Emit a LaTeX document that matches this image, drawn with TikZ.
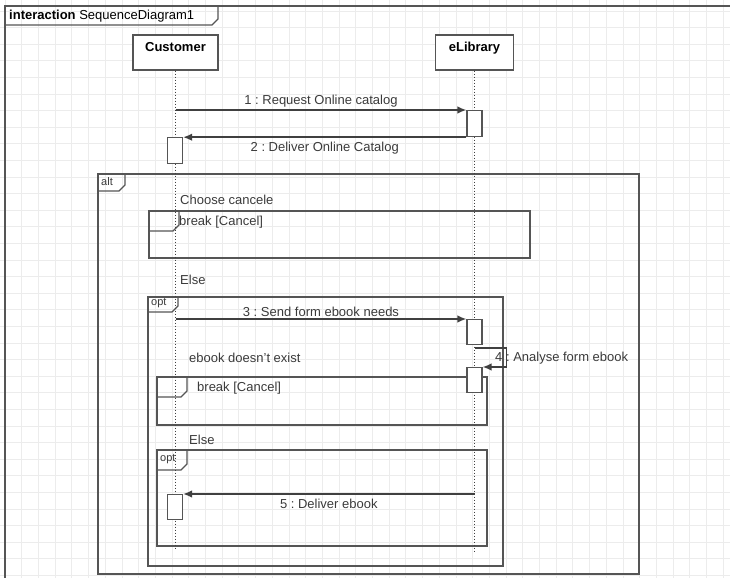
\documentclass[tikz,border=0pt]{standalone}
\usepackage{fontspec}
\setmainfont{Liberation Sans}
\usepackage{tikz}
\usetikzlibrary{arrows.meta}
\frenchspacing

\definecolor{framegray}{HTML}{555555}
\definecolor{textgray}{HTML}{3A3A3A}
\definecolor{gridgray}{HTML}{ECECEC}

% fragment tab: x, y, width, height
\newcommand{\fragtab}[4]{%
  \draw[frame_style] (#1,#2) -- ++(#3,0) -- ++(0,#4-6) -- ++(-6,6) -- ++(-#3+6,0) -- cycle;}

\begin{document}
\begin{tikzpicture}[x=1pt, y=-1pt, font=\fontsize{13}{15}\selectfont,
		head_style/.style={rectangle,draw=framegray,line width=1.2pt,fill=white,minimum height=35pt,
			text height=13.5pt,text depth=15.5pt,inner sep=3pt,font=\fontsize{13}{15}\selectfont\bfseries},
		act_style/.style={rectangle,draw=framegray,line width=1.2pt,fill=white,minimum width=15pt,
			minimum height=26pt,inner sep=0pt,anchor=north},
		life_style/.style={draw=black!75,line width=1.2pt,dash pattern=on 1.2pt off 1.8pt},
		msg_style/.style={draw=black!75,line width=1.5pt,-{Latex[length=9pt,width=7.5pt]}},
		frame_style/.style={draw=framegray,line width=1.2pt},
		grid_style/.style={draw=gridgray,line width=0.8pt},
		lbl_style/.style={text=textgray,inner sep=1pt},
		tab_style/.style={text=textgray,inner sep=1pt,anchor=west,font=\fontsize{11}{12}\selectfont}]
		
		\useasboundingbox (0,0) rectangle (730,578);
		
		% background grid
		\foreach \gx in {5,21.7,...,730} \draw[grid_style] (\gx,0) -- (\gx,578);
		\foreach \gy in {11,27.6,...,578} \draw[grid_style] (0,\gy) -- (730,\gy);
		
		% interaction frame
		\draw[frame_style] (730,6) -- (5,6) -- (5,578);
		\fragtab{5}{6}{213}{19}
		\node[anchor=west,inner sep=0pt] (frame_lbl) at (9,16) {\textbf{interaction} SequenceDiagram1};
		
		% alt fragment
		\draw[frame_style] (98,174) rectangle (639,574);
		\fragtab{98}{174}{27}{17}
		\node[tab_style] (alt_lbl) at (100,182) {alt};
		\node[lbl_style,anchor=west] (guard1) at (179,200) {Choose cancele};
		
		\draw[frame_style] (149,211) rectangle (530,258);
		\fragtab{149}{211}{30}{20}
		\node[lbl_style,anchor=west] (brk1_lbl) at (178,222) {break [Cancel]};
		
		\node[lbl_style,anchor=west] (guard2) at (179,280) {Else};
		
		% opt fragment
		\draw[frame_style] (148,297) rectangle (503,566);
		\fragtab{148}{297}{30}{15}
		\node[tab_style] (opt1_lbl) at (150,303) {opt};
		
		\node[lbl_style,anchor=west] (guard3) at (188,358) {ebook doesn't exist};
		\draw[frame_style] (157,377) rectangle (487,425);
		\fragtab{157}{377}{30}{20}
		\node[lbl_style,anchor=west] (brk2_lbl) at (196,388) {break [Cancel]};
		
		\node[lbl_style,anchor=west] (guard4) at (188,440) {Else};
		\draw[frame_style] (157,450) rectangle (487,546);
		\fragtab{157}{450}{30}{20}
		\node[tab_style] (opt2_lbl) at (159,459) {opt};
		
		% participants and lifelines
		\node[head_style,minimum width=85pt] (cust) at (175.5,52.5) {Customer};
		\node[head_style,minimum width=78pt] (elib) at (474.5,52.5) {eLibrary};
		\coordinate (cust_end) at (175.5,550);
		\coordinate (elib_end) at (474.5,552);
		\draw[life_style] (cust) -- (cust_end);
		\draw[life_style] (elib) -- (elib_end);
		
		% activations
		\node[act_style] (elib_a1) at (474.5,110) {};
		\node[act_style] (cust_a1) at (175,136.5) {};
		\node[act_style,minimum height=25pt] (elib_a2) at (474.5,319) {};
		\node[act_style,minimum height=25pt] (elib_a3) at (474.5,367) {};
		\node[act_style,minimum height=25pt] (cust_a2) at (175,494) {};
		
		% messages
		\coordinate (m1) at (175.5,110);
		\coordinate (m3) at (175.5,319);
		\coordinate (m4) at (474.5,348);
		\coordinate (m5) at (474.5,494);
		
		\draw[msg_style] (m1) -- (elib_a1.north west) node[lbl_style,midway,above=1pt] {1 : Request Online catalog};
		\draw[msg_style] (elib_a1.south west) -- (cust_a1.east |- elib_a1.south west) node[lbl_style,midway,below=3pt] {2 : Deliver Online Catalog};
		\draw[msg_style] (m3) -- (elib_a2.north west) node[lbl_style,midway,above=1pt] {3 : Send form ebook needs};
		\node[lbl_style,anchor=west] (m4_lbl) at (494,358) {4 : Analyse form ebook};
		\draw[msg_style] (m4) -- ++(32,0) |- (elib_a3.north east);
		\draw[msg_style] (m5) -- (cust_a2.north east) node[lbl_style,midway,below=3pt] {5 : Deliver ebook};
		
\end{tikzpicture}
\end{document}
